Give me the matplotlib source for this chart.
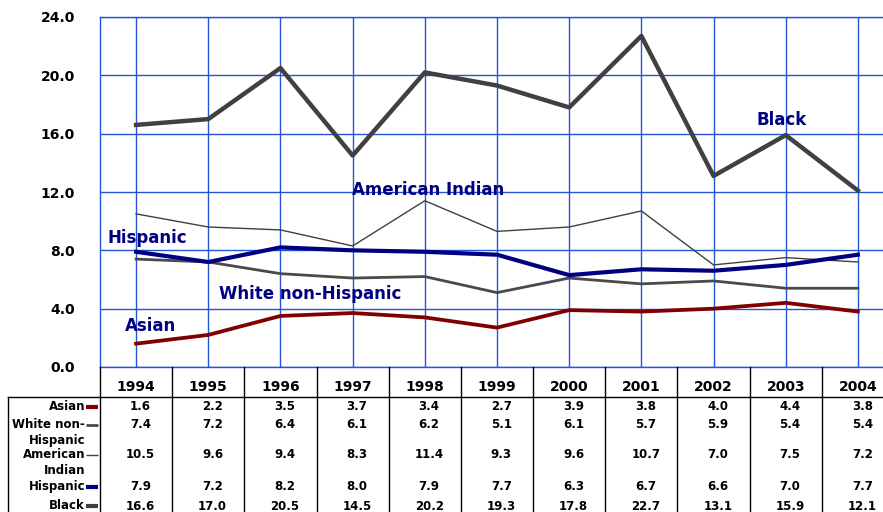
import matplotlib
matplotlib.use('Agg')
import matplotlib.pyplot as plt
from matplotlib.transforms import blended_transform_factory

years = ['1994', '1995', '1996', '1997', '1998', '1999', '2000', '2001', '2002', '2003', '2004']
asian = [1.6, 2.2, 3.5, 3.7, 3.4, 2.7, 3.9, 3.8, 4.0, 4.4, 3.8]
white = [7.4, 7.2, 6.4, 6.1, 6.2, 5.1, 6.1, 5.7, 5.9, 5.4, 5.4]
am_indian = [10.5, 9.6, 9.4, 8.3, 11.4, 9.3, 9.6, 10.7, 7.0, 7.5, 7.2]
hispanic = [7.9, 7.2, 8.2, 8.0, 7.9, 7.7, 6.3, 6.7, 6.6, 7.0, 7.7]
black = [16.6, 17.0, 20.5, 14.5, 20.2, 19.3, 17.8, 22.7, 13.1, 15.9, 12.1]
y_ticks = [0, 4, 8, 12, 16, 20, 24]

W, H = 883, 512
fig = plt.figure(figsize=(W/100, H/100), dpi=100)
grid_c = '#2356d6'

# main plot, runs off the right edge like the original
ax = fig.add_axes([100/W, (H-367)/H, 794/W, 350/H])
x = list(range(len(years)))
ax.set_xlim(-0.5, 10.5)
ax.set_ylim(0, 24)
ax.set_yticks(y_ticks)
ax.set_yticklabels(['%.1f' % v for v in y_ticks], fontsize=10, fontweight='bold')
ax.set_xticks(x)
ax.tick_params(axis='x', length=0, labelbottom=False)
ax.tick_params(axis='y', length=0, pad=18)
ax.grid(True, color=grid_c, lw=1.0)
for s in ax.spines.values():
    s.set_color(grid_c)
    s.set_linewidth(1.0)
ax.spines['right'].set_visible(False)

ax.plot(x, am_indian, color='#404040', lw=1.0, zorder=3)
ax.plot(x, white, color='#4a4a4a', lw=2.0, zorder=3)
ax.plot(x, asian, color='#800000', lw=2.7, zorder=4)
ax.plot(x, hispanic, color='#000080', lw=3.0, zorder=5)
ax.plot(x, black, color='#404040', lw=3.2, zorder=4)

lab = dict(color='#000080', fontsize=12, fontweight='bold', zorder=6)
ax.text(8.95, 16.3, 'Black', ha='center', va='bottom', **lab)
ax.text(4.05, 11.5, 'American Indian', ha='center', va='bottom', **lab)
ax.text(-0.4, 8.2, 'Hispanic', ha='left', va='bottom', **lab)
ax.text(1.15, 4.4, 'White non-Hispanic', ha='left', va='bottom', **lab)
ax.text(-0.15, 2.2, 'Asian', ha='left', va='bottom', **lab)

# table underneath, y in pixels
tab = fig.add_axes([0, 0, 1, 1], facecolor='none')
tab.set_xlim(0, W)
tab.set_ylim(H, 0)
tab.axis('off')
tr = blended_transform_factory(ax.transData, tab.transData)

for i in range(len(years) + 1):
    tab.plot([i - 0.5, i - 0.5], [367, H], color='black', lw=1.0, transform=tr, clip_on=False)
tab.plot([8, W], [397, 397], color='black', lw=1.0)
tab.plot([8, 8], [397, H], color='black', lw=1.0)

for i, yr in enumerate(years):
    tab.text(i, 387, yr, transform=tr, ha='center', va='center', fontsize=10, fontweight='bold')

rows = [
    ('Asian', asian, '#800000', 3.0, 407),
    ('White non-\nHispanic', white, '#4a4a4a', 2.0, 425),
    ('American\nIndian', am_indian, '#404040', 1.0, 455),
    ('Hispanic', hispanic, '#000080', 3.0, 487),
    ('Black', black, '#404040', 3.0, 506),
]
for name, vals, c, lw, ly in rows:
    tab.text(85, ly - 7, name, ha='right', va='top', fontsize=8.5, fontweight='bold',
             linespacing=1.3, multialignment='right')
    tab.plot([86, 98], [ly, ly], color=c, lw=lw, solid_capstyle='butt')
    for i, v in enumerate(vals):
        tab.text(i + 0.06, ly, '%.1f' % v, transform=tr, ha='center', va='center',
                 fontsize=8.5, fontweight='bold')

fig.savefig('out.png', dpi=100)
